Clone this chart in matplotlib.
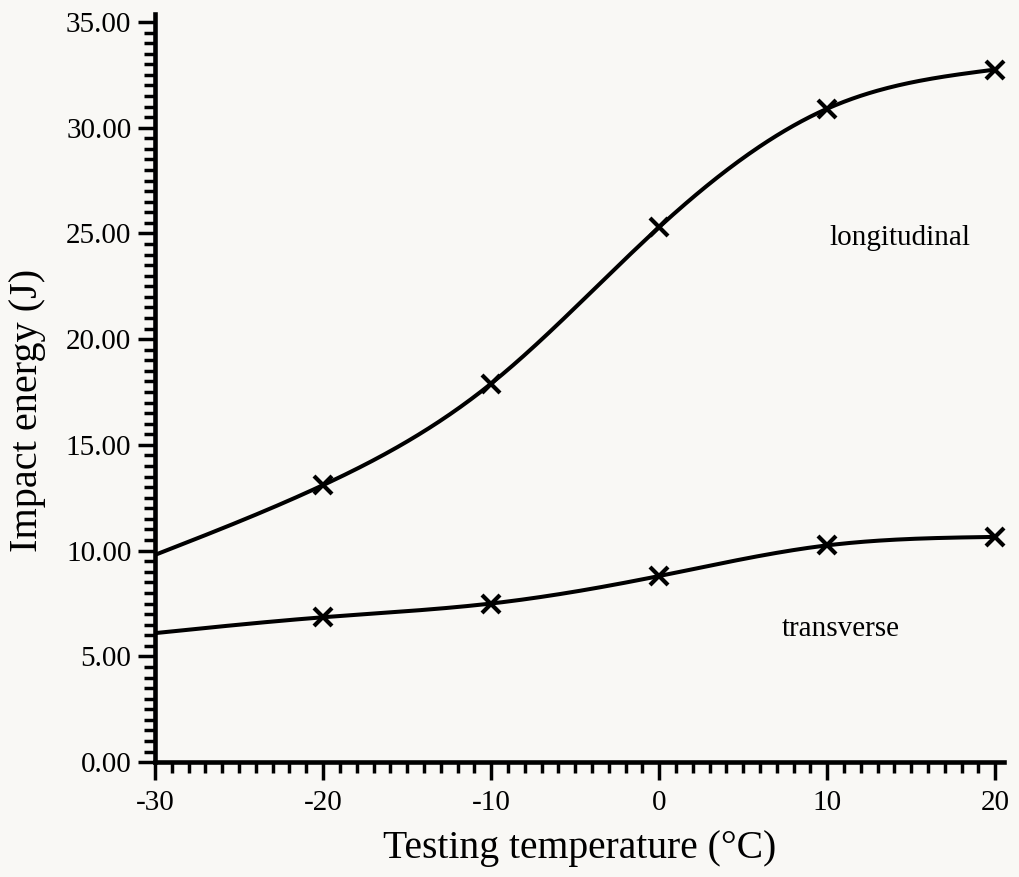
import numpy as np
import matplotlib
matplotlib.use("Agg")
import matplotlib.pyplot as plt
from matplotlib.ticker import MultipleLocator, FormatStrFormatter

# Data
temps = [-20, -10, 0, 10, 20]
longitudinal = [13.1, 17.9, 25.3, 30.9, 32.75]
transverse = [6.85, 7.5, 8.8, 10.25, 10.65]
# curve starting values at -30 (curve drawn from the axis, no marker)
curve_start_x = -30
longitudinal_start = 9.8
transverse_start = 6.1

x_ticks = [-30, -20, -10, 0, 10, 20]
y_ticks = [0, 5, 10, 15, 20, 25, 30, 35]


def natural_spline(xk, yk, xs):
    xk = np.asarray(xk, float)
    yk = np.asarray(yk, float)
    n = len(xk)
    h = np.diff(xk)
    A = np.zeros((n, n))
    b = np.zeros(n)
    A[0, 0] = 1
    A[-1, -1] = 1
    for i in range(1, n - 1):
        A[i, i - 1] = h[i - 1]
        A[i, i] = 2 * (h[i - 1] + h[i])
        A[i, i + 1] = h[i]
        b[i] = 6 * ((yk[i + 1] - yk[i]) / h[i] - (yk[i] - yk[i - 1]) / h[i - 1])
    M = np.linalg.solve(A, b)
    idx = np.clip(np.searchsorted(xk, xs) - 1, 0, n - 2)
    x0, x1 = xk[idx], xk[idx + 1]
    hh = x1 - x0
    t0 = x1 - xs
    t1 = xs - x0
    return (M[idx] * t0 ** 3 / (6 * hh) + M[idx + 1] * t1 ** 3 / (6 * hh)
            + (yk[idx] / hh - M[idx] * hh / 6) * t0
            + (yk[idx + 1] / hh - M[idx + 1] * hh / 6) * t1)


plt.rcParams['font.family'] = ['Liberation Serif', 'DejaVu Serif']
plt.rcParams['axes.unicode_minus'] = False

bg = '#f9f8f5'
fig = plt.figure(figsize=(10.2, 8.77), dpi=100)
fig.patch.set_facecolor(bg)
ax = fig.add_axes([0.152, 0.131, 0.984 - 0.152, 0.9846 - 0.131])
ax.set_facecolor(bg)

xs = np.linspace(curve_start_x, temps[-1], 400)
for start, vals in [(longitudinal_start, longitudinal), (transverse_start, transverse)]:
    xk = [curve_start_x] + temps
    yk = [start] + vals
    ax.plot(xs, natural_spline(xk, yk, xs), color='black', lw=2.9, solid_capstyle='butt')
    ax.plot(temps, vals, linestyle='none', marker='x', color='black',
            markersize=13, markeredgewidth=3, clip_on=False)

ax.set_xlim(-30, 20.5)
ax.set_ylim(0, 35.4)

for s in ['top', 'right']:
    ax.spines[s].set_visible(False)
for s in ['left', 'bottom']:
    ax.spines[s].set_linewidth(3.3)

ax.xaxis.set_minor_locator(MultipleLocator(1))
ax.yaxis.set_minor_locator(MultipleLocator(0.5))
ax.set_xticks(x_ticks)
ax.set_yticks(y_ticks)
ax.yaxis.set_major_formatter(FormatStrFormatter('%.2f'))

ax.tick_params(axis='both', which='major', direction='out', width=2.5, labelsize=21, color='black')
ax.tick_params(axis='y', which='major', length=12, pad=5)
ax.tick_params(axis='x', which='major', length=13, pad=7)
ax.tick_params(axis='y', which='minor', direction='out', length=8, width=2.5)
ax.tick_params(axis='x', which='minor', direction='out', length=8, width=2.5)

ax.set_xlabel('Testing temperature (\u00b0C)', fontsize=28.5, labelpad=10)
ax.set_ylabel('Impact energy (J)', fontsize=29)
ax.yaxis.set_label_coords(-0.128, 0.47)

ax.text(10.1, 24.8, 'longitudinal', fontsize=21, ha='left', va='center')
ax.text(7.3, 6.3, 'transverse', fontsize=21, ha='left', va='center')

fig.savefig('out.png', dpi=100, facecolor=fig.get_facecolor())
